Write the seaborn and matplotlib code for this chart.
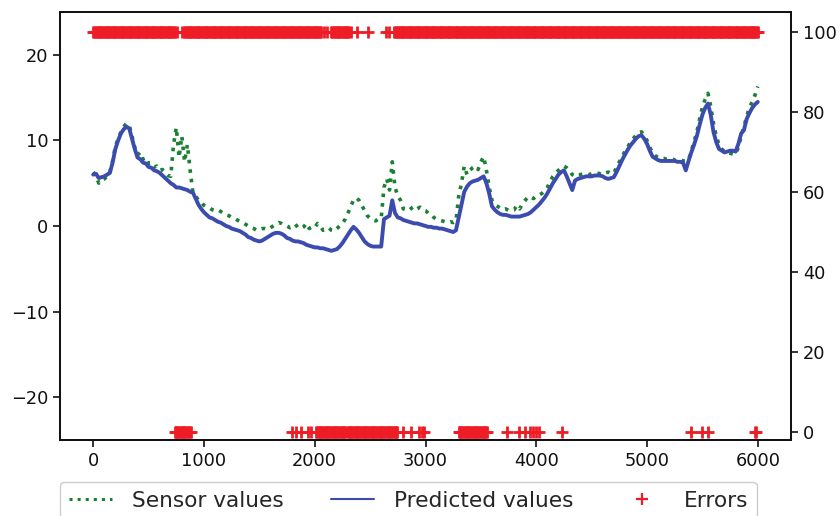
import numpy as np
import pandas as pd
import matplotlib
matplotlib.use("Agg")
import matplotlib.pyplot as plt
from matplotlib.lines import Line2D
import seaborn as sns

# Sample index of the readings (one value every 25 samples)
step = 25
n_points = 241

# Measured sensor readings
sensor_values = [
    6.3, 5.9, 5.0, 5.4, 5.5, 5.8, 6.3, 7.6, 9.3, 10.2,
    11.0, 11.6, 12.0, 11.8, 10.5, 9.2, 8.3, 8.6, 7.8, 8.0,
    7.3, 7.4, 6.9, 7.0, 6.5, 6.6, 6.2, 5.9, 5.8, 9.5,
    11.5, 8.0, 10.5, 7.5, 9.5, 6.5, 3.9, 3.5, 3.0, 2.8,
    2.4, 2.2, 2.1, 1.9, 1.8, 1.9, 1.7, 1.5, 1.3, 1.2,
    1.0, 0.9, 0.7, 0.5, 0.4, 0.2, 0.0, -0.2, -0.3, -0.5,
    -0.4, -0.3, -0.3, -0.4, -0.2, 0.0, 0.2, 0.4, 0.3, 0.1,
    0.0, -0.2, -0.1, 0.2, -0.2, -0.3, -0.1, 0.3, -0.3, -0.1,
    -0.2, 0.3, 0.0, -0.5, -0.4, -0.2, -0.5, -0.6, -0.3, 0.0,
    0.3, 0.8, 1.5, 2.3, 3.0, 3.3, 3.0, 2.4, 1.8, 1.2,
    0.9, 0.7, 0.6, 0.8, 0.9, 4.5, 5.5, 4.2, 7.5, 4.5,
    3.5, 3.0, 2.0, 1.9, 1.8, 2.1, 2.3, 2.0, 2.2, 1.9,
    1.8, 1.5, 1.4, 1.0, 0.8, 0.7, 0.6, 0.5, 0.4, 0.5,
    0.4, 0.6, 3.5, 5.0, 7.0, 6.0, 6.5, 6.8, 7.0, 6.6,
    7.5, 8.1, 6.5, 4.5, 3.0, 2.5, 2.3, 2.1, 1.9, 2.0,
    1.8, 1.9, 1.9, 2.4, 2.0, 2.6, 3.0, 3.4, 3.4, 3.2,
    3.5, 3.6, 3.8, 4.1, 4.5, 5.2, 5.8, 6.2, 6.5, 6.8,
    7.0, 6.8, 6.5, 6.0, 5.8, 6.0, 6.0, 6.1, 6.1, 6.0,
    6.1, 6.2, 6.2, 6.1, 6.0, 6.2, 6.3, 6.1, 6.2, 6.8,
    7.5, 8.1, 8.7, 9.2, 9.8, 10.2, 10.6, 10.9, 11.0, 10.6,
    10.0, 9.2, 8.5, 8.2, 8.0, 7.9, 7.9, 7.8, 7.8, 7.9,
    7.7, 7.8, 7.8, 7.6, 7.6, 7.7, 8.8, 9.8, 11.0, 12.5,
    13.9, 14.8, 15.5, 14.0, 12.0, 10.5, 9.5, 9.0, 8.7, 8.6,
    8.5, 8.4, 8.4, 9.2, 10.5, 11.6, 12.8, 13.9, 14.5, 15.3,
    16.3,
]

# Model output for the same samples
predicted_values = [
    6.0, 6.1, 5.6, 5.7, 5.8, 6.0, 6.2, 7.4, 9.0, 10.0,
    10.8, 11.3, 11.6, 11.4, 10.2, 9.0, 8.0, 7.8, 7.4, 7.3,
    6.9, 6.8, 6.5, 6.4, 6.2, 5.9, 5.6, 5.3, 5.0, 4.8,
    4.5, 4.5, 4.4, 4.3, 4.2, 4.0, 3.9, 3.2, 2.5, 2.0,
    1.6, 1.3, 1.0, 0.9, 0.7, 0.5, 0.4, 0.2, 0.0, -0.1,
    -0.3, -0.4, -0.5, -0.6, -0.8, -1.0, -1.3, -1.4, -1.6, -1.7,
    -1.8, -1.7, -1.5, -1.3, -1.1, -0.9, -0.8, -0.8, -0.9, -1.1,
    -1.4, -1.5, -1.7, -1.8, -1.8, -1.9, -2.0, -2.2, -2.3, -2.4,
    -2.5, -2.5, -2.6, -2.6, -2.7, -2.8, -2.9, -2.8, -2.7, -2.4,
    -2.0, -1.5, -1.0, -0.5, -0.1, -0.4, -0.8, -1.3, -1.8, -2.1,
    -2.3, -2.4, -2.4, -2.4, -2.4, 0.8, 1.0, 1.2, 3.0, 1.5,
    1.0, 0.9, 0.7, 0.6, 0.5, 0.4, 0.3, 0.3, 0.2, 0.1,
    0.0, -0.1, -0.1, -0.2, -0.2, -0.3, -0.3, -0.4, -0.5, -0.6,
    -0.7, -0.5, 1.0, 2.5, 4.0, 4.6, 5.0, 5.2, 5.3, 5.4,
    5.6, 5.8, 5.0, 3.8, 2.3, 1.9, 1.6, 1.4, 1.3, 1.3,
    1.2, 1.1, 1.1, 1.1, 1.1, 1.2, 1.3, 1.4, 1.6, 1.9,
    2.2, 2.5, 2.9, 3.3, 3.8, 4.4, 5.0, 5.5, 6.0, 6.3,
    6.5, 5.8, 5.0, 4.2, 5.3, 5.5, 5.6, 5.7, 5.8, 5.8,
    5.8, 5.9, 5.9, 5.9, 5.8, 5.6, 5.5, 5.6, 5.7, 6.3,
    7.0, 7.7, 8.3, 8.9, 9.4, 9.8, 10.2, 10.5, 10.6, 10.2,
    9.6, 8.8, 8.1, 7.9, 7.7, 7.6, 7.6, 7.6, 7.6, 7.6,
    7.6, 7.5, 7.5, 7.4, 6.5, 7.6, 8.6, 9.5, 10.5, 11.8,
    13.0, 13.8, 14.3, 13.0, 11.0, 9.8, 9.0, 8.8, 8.6, 8.7,
    8.8, 8.8, 8.7, 9.6, 10.8, 11.2, 12.5, 13.2, 13.8, 14.2,
    14.5,
]

# Error flag (right axis): stretches flagged 100 and stretches flagged 0
flag_high_runs = [(0, 740), (822, 2057), (2150, 2312), (2720, 6000)]
flag_high_single = [759, 804, 2085, 2115, 2330, 2386, 2478, 2644, 2674]
flag_low_runs = [(735, 880), (2011, 2280), (2290, 2748), (3300, 3560)]
flag_low_single = [1795, 1833, 1876, 1935, 1966, 2793, 2869, 2945, 2970, 2990,
                   3734, 3848, 3900, 3939, 3970, 4000, 4029, 4234,
                   5399, 5499, 5549, 5971, 5986]
flag_levels = (100, 0)

legend_labels = ["Sensor values", "Predicted values", "Errors"]

GREEN = "#1c8034"
BLUE = "#3b4cae"
RED = "#ee1d25"

t = np.arange(n_points) * step
df = pd.DataFrame({"t": t, "sensor": sensor_values, "predicted": predicted_values})


def expand(runs, singles, spacing=8):
    xs = [np.arange(a, b + 1, spacing) for a, b in runs]
    xs.append(np.asarray(singles))
    return np.sort(np.concatenate(xs))


hi_x = expand(flag_high_runs, flag_high_single)
lo_x = expand(flag_low_runs, flag_low_single)
err_hi = pd.DataFrame({"t": hi_x, "flag": np.full(len(hi_x), flag_levels[0])})
err_lo = pd.DataFrame({"t": lo_x, "flag": np.full(len(lo_x), flag_levels[1])})

sns.set_style("ticks")
plt.rcParams["font.family"] = ["DejaVu Sans"]
plt.rcParams["axes.edgecolor"] = "#111111"
plt.rcParams["xtick.color"] = "#111111"
plt.rcParams["ytick.color"] = "#111111"

fig = plt.figure(figsize=(8.4, 5.16), dpi=100)
ax = fig.add_axes([60 / 840, 1 - 440 / 516, (791 - 60) / 840, (440 - 12) / 516])
ax2 = ax.twinx()

sns.lineplot(data=df, x="t", y="sensor", ax=ax, color=GREEN, linestyle=":",
             linewidth=2.6, estimator=None, legend=False)
sns.lineplot(data=df, x="t", y="predicted", ax=ax, color=BLUE, linestyle="-",
             linewidth=2.8, estimator=None, legend=False)
for frame in (err_hi, err_lo):
    sns.lineplot(data=frame, x="t", y="flag", ax=ax2, color=RED, linestyle="",
                 marker="+", markersize=8, markeredgewidth=2.0,
                 markeredgecolor=RED, estimator=None, legend=False)

ax.set_xlim(-300, 6300)
ax.set_ylim(-25, 25)
ax2.set_ylim(-2, 105)
ax.set_xticks(range(0, 6001, 1000))
ax.set_yticks([-20, -10, 0, 10, 20])
ax2.set_yticks(range(0, 101, 20))
for a in (ax, ax2):
    a.set_xlabel("")
    a.set_ylabel("")
    a.tick_params(labelsize=12.8, width=1.2, length=5)
    for sp in a.spines.values():
        sp.set_linewidth(1.3)
        sp.set_visible(True)

handles = [
    Line2D([], [], color=GREEN, linestyle=":", linewidth=2.2),
    Line2D([], [], color=BLUE, linestyle="-", linewidth=1.5),
    Line2D([], [], color=RED, linestyle="", marker="+", markersize=9, markeredgewidth=1.6),
]
fig.legend(handles, legend_labels, ncol=3, loc="upper left",
           bbox_to_anchor=(60 / 840, 1 - 482 / 516), fontsize=15.6,
           frameon=True, fancybox=True, edgecolor="#cccccc", framealpha=1,
           handlelength=2.0, handletextpad=0.9, columnspacing=2.2,
           borderaxespad=0)

fig.savefig("out.png", dpi=100)
